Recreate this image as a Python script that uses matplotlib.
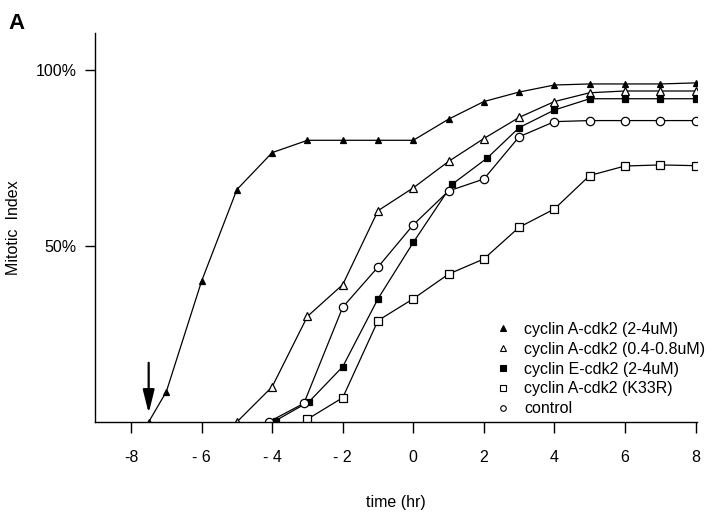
import numpy as np
import matplotlib.pyplot as plt

plt.rcParams['font.family'] = ['Liberation Sans', 'DejaVu Sans']

# time (hr) and mitotic index (%)
t_a_high = [-7.5, -7, -6, -5, -4, -3, -2, -1, 0, 1, 2, 3, 4, 5, 6, 7, 8]
mi_a_high = [0, 8.6, 40, 66, 76.5, 80, 80, 80, 80, 86, 91, 93.7, 95.7, 96, 96, 96, 96.3]

t_a_low = [-5, -4, -3, -2, -1, 0, 1, 2, 3, 4, 5, 6, 7, 8]
mi_a_low = [0, 10, 30, 39, 60, 66.5, 74, 80.5, 86.5, 91, 93.5, 94, 94, 94]

t_e = [-3.9, -2.95, -2, -1, 0, 1.1, 2.1, 3, 4, 5, 6, 7, 8]
mi_e = [0.4, 5.8, 15.7, 35, 51, 67.5, 75, 83.6, 88.6, 91.8, 91.8, 91.8, 91.8]

t_k33r = [-3, -2, -1, 0, 1, 2, 3, 4, 5, 6, 7, 8]
mi_k33r = [0.8, 6.9, 28.8, 35, 42, 46.3, 55.3, 60.5, 70, 72.7, 73, 72.8]

t_ctrl = [-4.1, -3.1, -2, -1, 0, 1, 2, 3, 4, 5, 6, 7, 8]
mi_ctrl = [0, 5.3, 32.6, 44, 56, 65.6, 69, 81, 85.3, 85.6, 85.6, 85.6, 85.6]

labels = ['cyclin A-cdk2 (2-4uM)', 'cyclin A-cdk2 (0.4-0.8uM)',
          'cyclin E-cdk2 (2-4uM)', 'cyclin A-cdk2 (K33R)', 'control']

xticks = [-8, -6, -4, -2, 0, 2, 4, 6, 8]
xticklabels = ['-8', '- 6', '- 4', '- 2', '0', '2', '4', '6', '8']

fig = plt.figure(figsize=(7.2, 5.14), dpi=100)
ax = fig.add_axes([0.132, 0.179, 0.836, 0.757])

series = [
    (t_a_high, mi_a_high, '^', 'black'),
    (t_a_low, mi_a_low, '^', 'white'),
    (t_e, mi_e, 's', 'black'),
    (t_k33r, mi_k33r, 's', 'white'),
    (t_ctrl, mi_ctrl, 'o', 'white'),
]
for (t, mi, m, fc), lab in zip(series, labels):
    ms = 5 if fc == 'black' else 6
    ax.plot(t, mi, color='black', lw=0.9, marker=m, markersize=ms,
            markerfacecolor=fc, markeredgecolor='black', markeredgewidth=0.9,
            label=lab)

# arrow marking addition time
ax.annotate('', xy=(-7.5, 2.5), xytext=(-7.5, 16.8),
            arrowprops=dict(arrowstyle='-|>,head_length=1.4,head_width=0.35',
                            color='black', lw=1.6, shrinkA=0, shrinkB=0))

ax.set_xlim(-9.02, 8.04)
ax.set_ylim(0, 110.5)
ax.set_xticks(xticks)
ax.set_xticklabels(xticklabels)
ax.set_yticks([50, 100])
ax.set_yticklabels(['50%', '100%'])
ax.tick_params(axis='x', direction='out', length=8, width=1, pad=12, labelsize=11.5)
ax.tick_params(axis='y', direction='out', length=7, width=1, pad=6, labelsize=11.5)
for s in ['top', 'right']:
    ax.spines[s].set_visible(False)
for s in ['left', 'bottom']:
    ax.spines[s].set_linewidth(1)

ax.set_xlabel('time (hr)', fontsize=11.5, labelpad=22)
ax.set_ylabel('Mitotic  Index', fontsize=11.5, labelpad=11)

handles, labs = ax.get_legend_handles_labels()
leg_handles = []
for h in handles:
    hh = plt.Line2D([], [], linestyle='none', marker=h.get_marker(),
                    markersize=4, markerfacecolor=h.get_markerfacecolor(),
                    markeredgecolor='black', markeredgewidth=0.8)
    leg_handles.append(hh)
ax.legend(leg_handles, labs, loc='lower left', bbox_to_anchor=(0.665, 0.015),
          frameon=False, fontsize=11.5, handlelength=1.0, handletextpad=0.8,
          labelspacing=0.3, borderpad=0, borderaxespad=0)

fig.text(0.012, 0.975, 'A', fontsize=16, fontweight='bold', va='top', ha='left')

fig.savefig('out.png', dpi=100)
